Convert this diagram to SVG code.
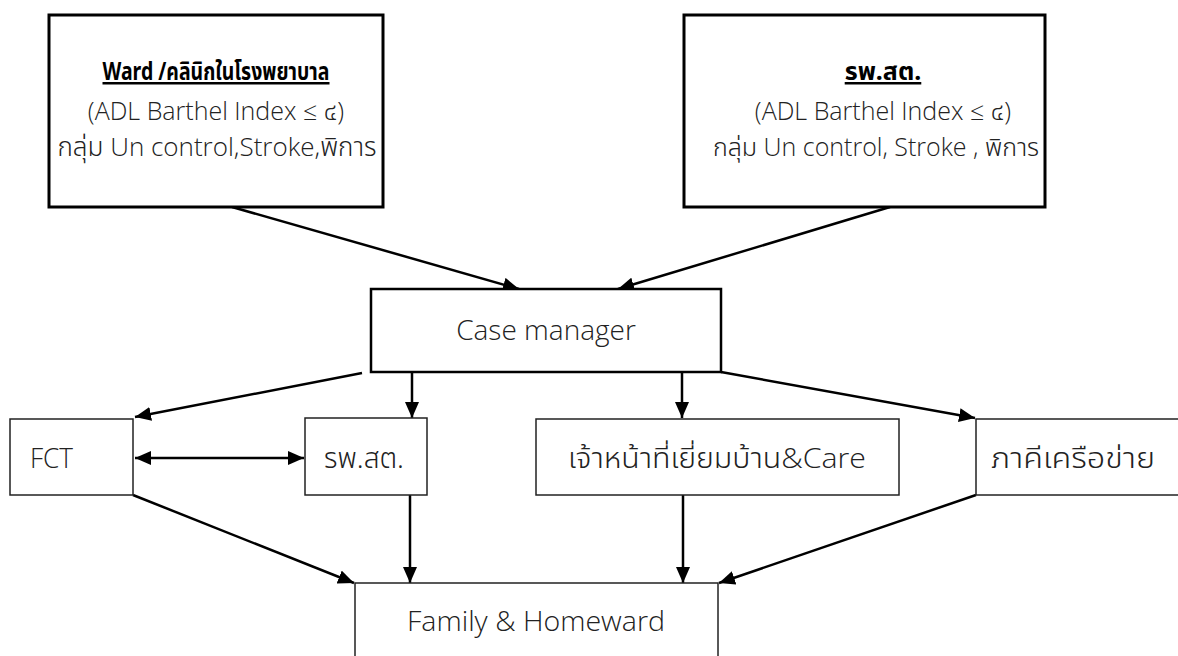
<svg xmlns="http://www.w3.org/2000/svg" width="1178" height="656" viewBox="0 0 1178 656">
<style>
text{font-family:"Open Sans","Noto Sans Thai","Noto Sans","DejaVu Sans",sans-serif;font-size:25px;fill:#222;font-weight:300}
.th{font-family:"Noto Sans Thai","Noto Sans","DejaVu Sans",sans-serif;font-weight:300}
.c{text-anchor:middle}
.t{font-family:"Noto Sans","Noto Sans Thai","DejaVu Sans",sans-serif;font-weight:700;text-decoration:underline;fill:#000}
.l3{font-size:26px}
.big{font-size:28px}
.thick{fill:#fff;stroke:#000;stroke-width:3}
.mid{fill:#fff;stroke:#000;stroke-width:2.5}
.thin{fill:#fff;stroke:#222;stroke-width:1.5}
.ln{stroke:#000;stroke-width:2.5;fill:none;marker-end:url(#ah)}
</style>
<defs>
<marker id="ah" markerUnits="userSpaceOnUse" markerWidth="16" markerHeight="14" refX="16" refY="7" orient="auto-start-reverse" viewBox="0 0 16 14">
<path d="M0,0 L16,7 L0,14 z" fill="#000"/>
</marker>
</defs>
<rect width="1178" height="656" fill="#fff"/>
<g id="connectors">
<line class="ln" x1="232" y1="207" x2="519" y2="289"/>
<line class="ln" x1="890" y1="207" x2="618" y2="289"/>
<line class="ln" x1="362" y1="373" x2="135" y2="417"/>
<line class="ln" x1="412" y1="372" x2="412" y2="418"/>
<line class="ln" x1="682" y1="372" x2="682" y2="418"/>
<line class="ln" x1="721" y1="372" x2="975" y2="418"/>
<line class="ln" x1="135" y1="458" x2="304" y2="458" style="marker-start:url(#ah)"/>
<line class="ln" x1="133" y1="495" x2="354" y2="583"/>
<line class="ln" x1="410" y1="495" x2="410" y2="583"/>
<line class="ln" x1="683" y1="495" x2="683" y2="583"/>
<line class="ln" x1="976" y1="495" x2="719" y2="583"/>
</g>
<g id="ward">
<rect class="thick" x="49" y="15" width="334" height="192"/>
<text class="c t" x="216" y="80" textLength="227" lengthAdjust="spacingAndGlyphs">Ward /คลินิกในโรงพยาบาล</text>
<text class="c" x="216" y="120">(ADL Barthel Index ≤ <tspan class="th">๔</tspan>)</text>
<text class="c l3" x="217" y="156"><tspan class="th">กลุ่ม</tspan> Un control,Stroke,<tspan class="th">พิการ</tspan></text>
</g>
<g id="rpst-top">
<rect class="thick" x="684" y="15" width="361" height="192"/>
<text class="c t" x="883" y="80">รพ.สต.</text>
<text class="c" x="883" y="120">(ADL Barthel Index ≤ <tspan class="th">๔</tspan>)</text>
<text class="c" x="876" y="156"><tspan class="th">กลุ่ม</tspan> Un control, Stroke , <tspan class="th">พิการ</tspan></text>
</g>
<g id="case-manager">
<rect class="mid" x="371" y="289" width="350" height="83"/>
<text class="c big" x="546" y="340">Case manager</text>
</g>
<g id="fct">
<rect class="thin" x="10" y="419" width="123" height="76"/>
<text class="big" x="30" y="468" textLength="43" lengthAdjust="spacingAndGlyphs">FCT</text>
</g>
<g id="rpst">
<rect class="thin" x="305" y="418" width="122" height="77"/>
<text class="c big th" x="364" y="468">รพ.สต.</text>
</g>
<g id="staff">
<rect class="thin" x="536" y="419" width="363" height="76"/>
<text class="c big" x="717" y="468" textLength="298" lengthAdjust="spacingAndGlyphs"><tspan class="th">เจ้าหน้าที่เยี่ยมบ้าน</tspan>&amp;Care</text>
</g>
<g id="network">
<rect class="thin" x="976" y="419" width="220" height="76"/>
<text class="c big th" x="1073" y="468" textLength="164" lengthAdjust="spacingAndGlyphs">ภาคีเครือข่าย</text>
</g>
<g id="family">
<rect class="thin" x="355" y="583" width="363" height="90"/>
<text class="c big" x="536" y="631" textLength="258" lengthAdjust="spacingAndGlyphs">Family &amp; Homeward</text>
</g>
</svg>
